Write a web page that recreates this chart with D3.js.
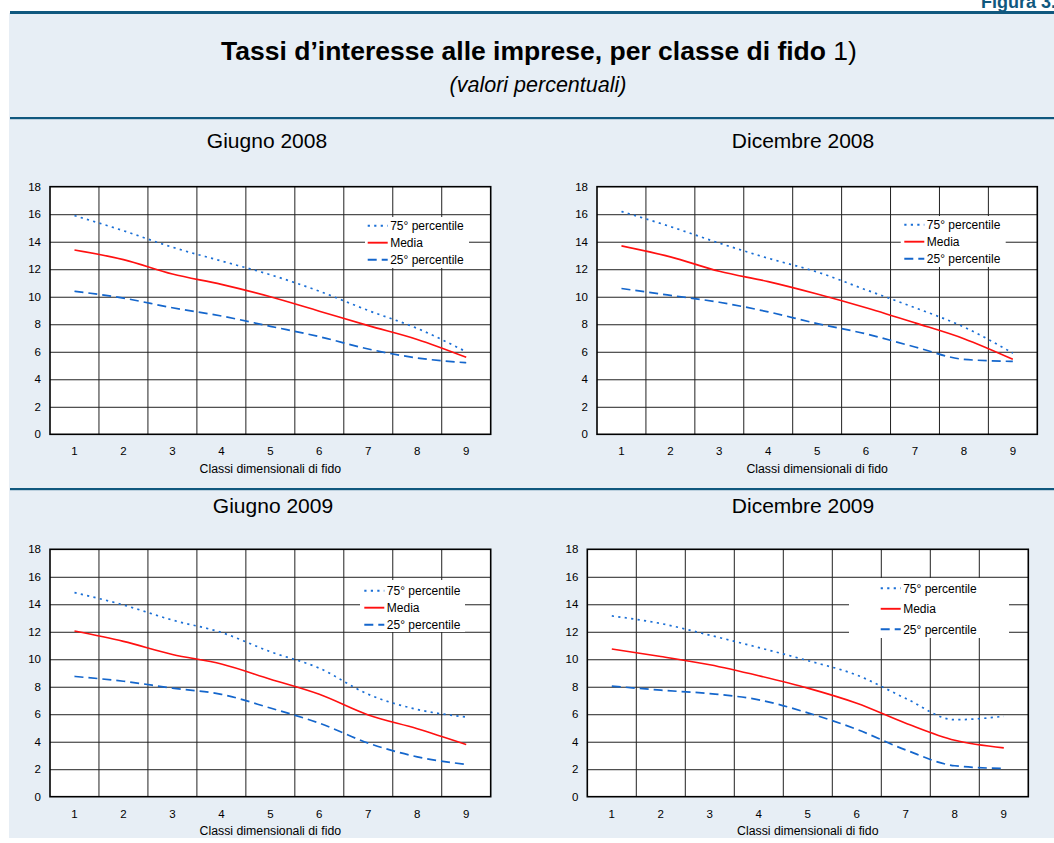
<!DOCTYPE html>
<html>
<head>
<meta charset="utf-8">
<script src="https://cdn.jsdelivr.net/npm/d3@7"></script>
<style>
  body { margin: 0; background: #fff; }
  svg { display: block; }
  text { font-family: Arial, "Liberation Sans", sans-serif; fill: #000; }
</style>
</head>
<body>
<svg id="chart" width="1054" height="843"></svg>
<script>
// categories and ticks
const classes = [1, 2, 3, 4, 5, 6, 7, 8, 9];
const yTicks = [0, 2, 4, 6, 8, 10, 12, 14, 16, 18];
const periods = ["Giugno 2008", "Dicembre 2008", "Giugno 2009", "Dicembre 2009"];
const seriesNames = ["75° percentile", "Media", "25° percentile"];

// values, one array per series and period
const giu08_p75   = [15.9, 14.8, 13.6, 12.6, 11.6, 10.4, 9.0, 7.7, 6.0];
const giu08_media = [13.4, 12.7, 11.65, 10.9, 10.0, 8.95, 7.9, 6.9, 5.6];
const giu08_p25   = [10.4, 9.9, 9.2, 8.6, 7.85, 7.1, 6.2, 5.55, 5.2];

const dic08_p75   = [16.2, 15.1, 13.9, 12.8, 11.8, 10.5, 9.2, 7.8, 5.9];
const dic08_media = [13.7, 12.9, 11.85, 11.1, 10.2, 9.2, 8.1, 6.95, 5.45];
const dic08_p25   = [10.6, 10.1, 9.6, 8.9, 8.05, 7.3, 6.35, 5.45, 5.3];

const giu09_p75   = [14.85, 13.95, 12.85, 11.95, 10.55, 9.35, 7.45, 6.35, 5.8];
const giu09_media = [12.05, 11.3, 10.35, 9.65, 8.55, 7.45, 5.95, 4.95, 3.8];
const giu09_p25   = [8.75, 8.4, 7.9, 7.45, 6.45, 5.35, 3.9, 2.9, 2.35];

const dic09_p75   = [13.15, 12.6, 11.75, 10.85, 9.9, 8.85, 7.15, 5.6, 5.85];
const dic09_media = [10.75, 10.2, 9.6, 8.8, 7.9, 6.8, 5.35, 4.1, 3.55];
const dic09_p25   = [8.05, 7.75, 7.5, 7.05, 6.1, 4.9, 3.4, 2.25, 2.05];

const panelData = [
  [giu08_p75, giu08_media, giu08_p25],
  [dic08_p75, dic08_media, dic08_p25],
  [giu09_p75, giu09_media, giu09_p25],
  [dic09_p75, dic09_media, dic09_p25]
];

// layout of the four panels (plot box, title, legend box)
const layout = [
  { x: 50,    y: 186.7, w: 440.7, h: 247.6, tx: 267, ty: 147.5, lx: 365,   ly: 217, lw: 104, lh: 51, row0: 225.7, rowGap: 17, lineX: 367.7 },
  { x: 597,   y: 186.7, w: 440.3, h: 247.6, tx: 803, ty: 147.5, lx: 900.7, ly: 216, lw: 105, lh: 51, row0: 224.7, rowGap: 17, lineX: 904.3 },
  { x: 50,    y: 549.3, w: 440.7, h: 247.4, tx: 273, ty: 513,   lx: 360,   ly: 580, lw: 105, lh: 52, row0: 590.7, rowGap: 17, lineX: 364.3 },
  { x: 587.3, y: 549.3, w: 441,   h: 247.4, tx: 803, ty: 513,   lx: 849,   ly: 578, lw: 160, lh: 60, row0: 588.3, rowGap: 20.5, lineX: 880.7 }
];

const styles = [
  { color: "#1a6fd6", dash: "2.2,4.3", width: 1.7 },
  { color: "#ff1010", dash: null, width: 1.6 },
  { color: "#1466cc", dash: "9,5", width: 1.7 }
];

const blueDark = "#10587e";
const bgBlue = "#e7eef5";
const tickFont = "11.5px";

const svg = d3.select("#chart");

// background bands
svg.append("rect").attr("x", 9).attr("y", 13).attr("width", 1045).attr("height", 825).attr("fill", bgBlue);
svg.append("rect").attr("x", 10).attr("y", 11).attr("width", 1044).attr("height", 3).attr("fill", blueDark);
svg.append("rect").attr("x", 10).attr("y", 117).attr("width", 1044).attr("height", 2.2).attr("fill", blueDark);
svg.append("rect").attr("x", 10).attr("y", 488).attr("width", 1044).attr("height", 2.2).attr("fill", blueDark);

svg.append("text")
  .attr("x", 1056).attr("y", 8)
  .attr("text-anchor", "end")
  .style("font-size", "18px").style("font-weight", "bold")
  .style("fill", blueDark)
  .text("Figura 3.");

const title = svg.append("text")
  .attr("x", 539).attr("y", 60)
  .attr("text-anchor", "middle")
  .style("font-size", "26.5px");
title.append("tspan").style("font-weight", "bold").text("Tassi d\u2019interesse alle imprese, per classe di fido");
title.append("tspan").text(" 1)");

svg.append("text")
  .attr("x", 538).attr("y", 92)
  .attr("text-anchor", "middle")
  .style("font-size", "21.5px").style("font-style", "italic")
  .text("(valori percentuali)");

layout.forEach((L, i) => {
  const x = d3.scaleBand().domain(classes).range([0, L.w]);
  const y = d3.scaleLinear().domain([0, 18]).range([L.h, 0]);

  // panel title
  svg.append("text")
    .attr("x", L.tx).attr("y", L.ty)
    .attr("text-anchor", "middle")
    .style("font-size", "21px")
    .text(periods[i]);

  const g = svg.append("g").attr("transform", `translate(${L.x},${L.y})`);

  g.append("rect").attr("width", L.w).attr("height", L.h).attr("fill", "#fff");

  // horizontal grid
  g.append("g")
    .call(d3.axisLeft(y).tickValues(yTicks.slice(1, -1)).tickSize(-L.w).tickFormat(""))
    .call(s => s.select(".domain").remove())
    .selectAll("line").attr("stroke", "#222").attr("stroke-width", 1);

  // vertical grid at class boundaries
  g.append("g").selectAll("line")
    .data(classes.slice(1))
    .join("line")
    .attr("x1", d => x(d)).attr("x2", d => x(d))
    .attr("y1", 0).attr("y2", L.h)
    .attr("stroke", "#222").attr("stroke-width", 1);

  // legend box (white, covers grid)
  const lg = svg.append("g");
  lg.append("rect")
    .attr("x", L.lx).attr("y", L.ly).attr("width", L.lw).attr("height", L.lh)
    .attr("fill", "#fff");

  // frame
  g.append("rect").attr("width", L.w).attr("height", L.h)
    .attr("fill", "none").attr("stroke", "#000").attr("stroke-width", 1.6);

  // axes
  g.append("g")
    .call(d3.axisLeft(y).tickValues(yTicks).tickSize(0).tickPadding(9))
    .call(s => s.select(".domain").remove())
    .selectAll("text").style("font-size", tickFont).style("font-family", "Arial, 'Liberation Sans', sans-serif");

  g.append("g")
    .attr("transform", `translate(0,${L.h})`)
    .call(d3.axisBottom(x).tickSize(0).tickPadding(13))
    .call(s => s.select(".domain").remove())
    .selectAll("text").style("font-size", tickFont).style("font-family", "Arial, 'Liberation Sans', sans-serif");

  g.append("text")
    .attr("x", L.w / 2).attr("y", L.h + 38.5)
    .attr("text-anchor", "middle")
    .style("font-size", "12.3px")
    .text("Classi dimensionali di fido");

  // lines
  const line = d3.line()
    .x((d, j) => x(classes[j]) + x.bandwidth() / 2)
    .y(d => y(d))
    .curve(d3.curveMonotoneX);

  panelData[i].forEach((vals, k) => {
    g.append("path")
      .datum(vals)
      .attr("fill", "none")
      .attr("stroke", styles[k].color)
      .attr("stroke-width", styles[k].width)
      .attr("stroke-dasharray", styles[k].dash)
      .attr("d", line);
  });

  // legend entries
  seriesNames.forEach((name, k) => {
    const ry = L.row0 + k * L.rowGap;
    lg.append("line")
      .attr("x1", L.lineX).attr("x2", L.lineX + 20)
      .attr("y1", ry).attr("y2", ry)
      .attr("stroke", styles[k].color)
      .attr("stroke-width", styles[k].width + 0.3)
      .attr("stroke-dasharray", styles[k].dash);
    lg.append("text")
      .attr("x", L.lineX + 22.5).attr("y", ry)
      .attr("dy", "0.35em")
      .style("font-size", "12px")
      .text(name);
  });
});
</script>
</body>
</html>
